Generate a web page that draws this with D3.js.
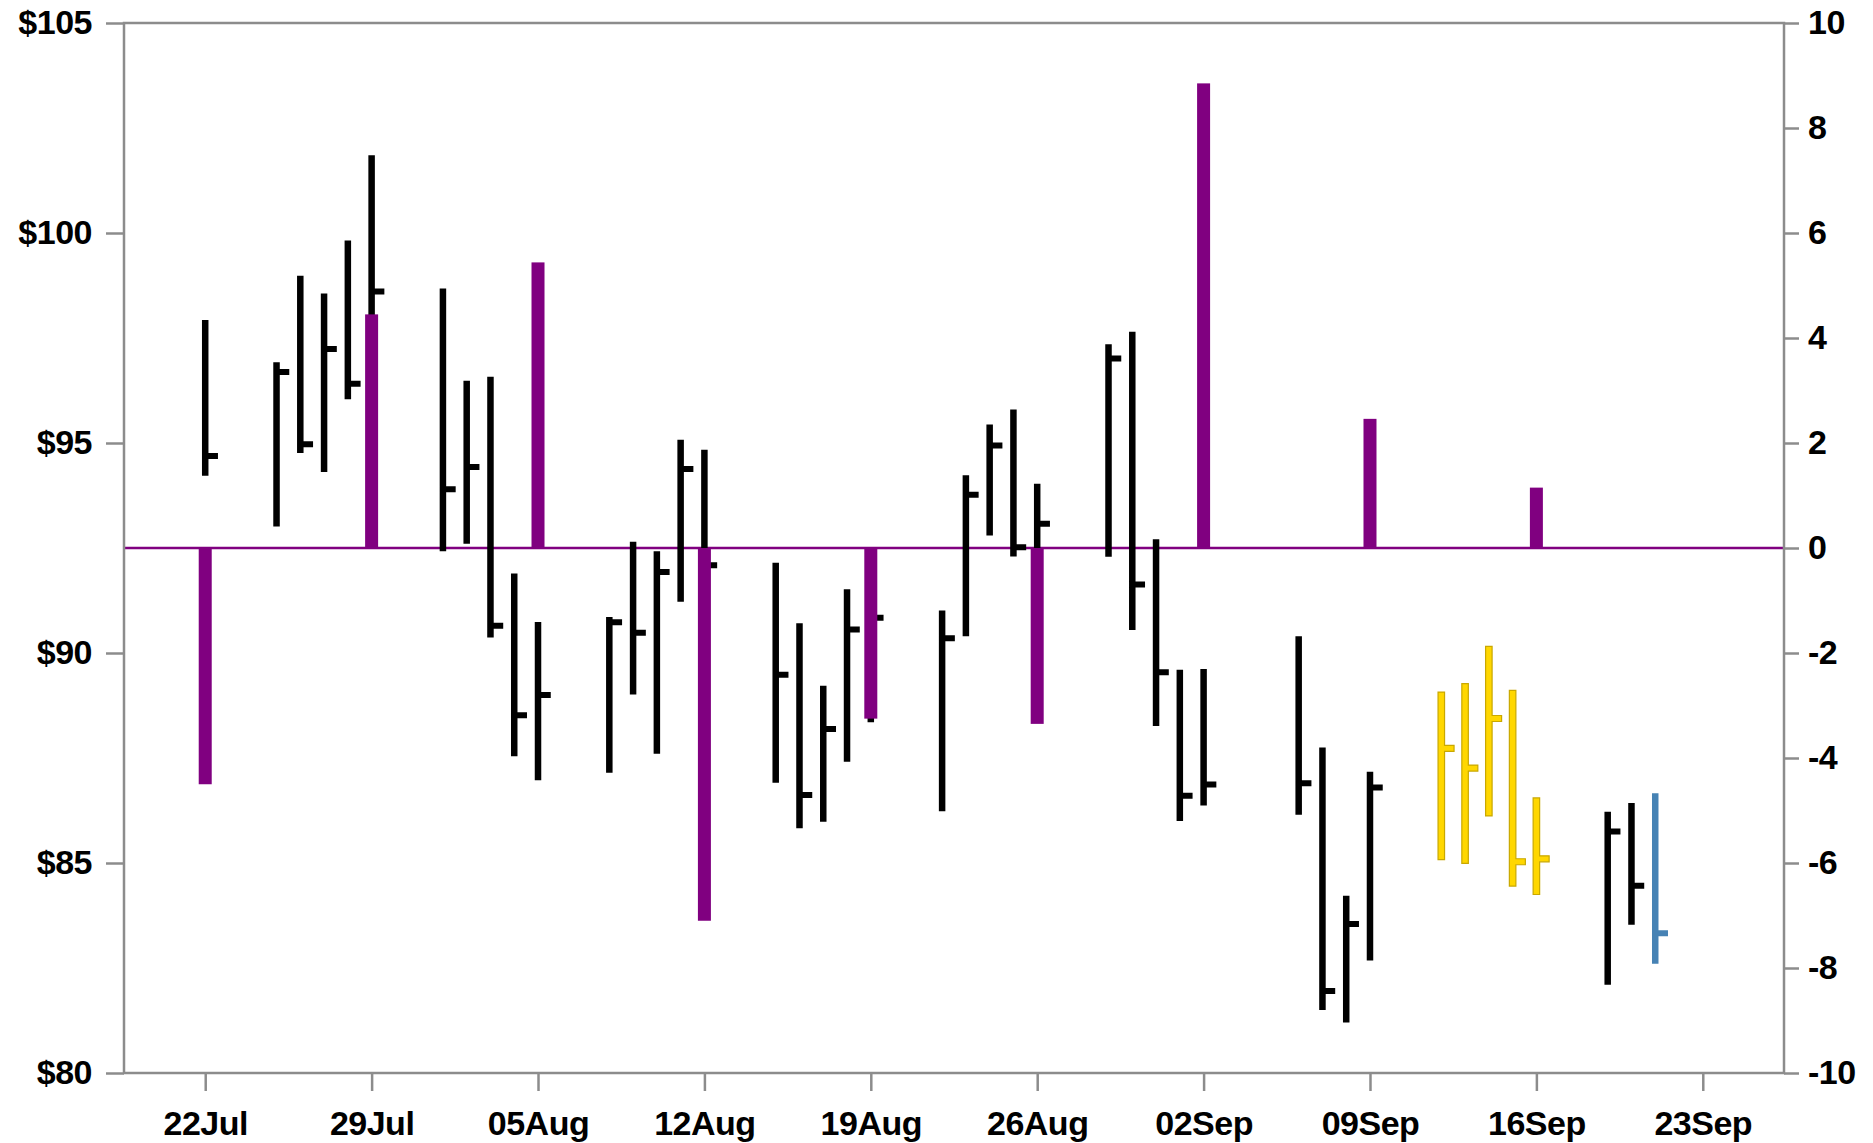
<!DOCTYPE html>
<html>
<head>
<meta charset="utf-8">
<script src="https://cdn.jsdelivr.net/npm/d3@7"></script>
<style>
  body { margin: 0; background: #fff; }
  svg text { font-family: "Liberation Sans", Arial, sans-serif; font-weight: bold; fill: #000; }
</style>
</head>
<body>
<svg id="chart" width="1873" height="1143"></svg>
<script>
// daily bars: high / low / close
const barDates = [
  "2019-07-22",
  "2019-07-25", "2019-07-26", "2019-07-27", "2019-07-28", "2019-07-29",
  "2019-08-01", "2019-08-02", "2019-08-03", "2019-08-04", "2019-08-05",
  "2019-08-08", "2019-08-09", "2019-08-10", "2019-08-11", "2019-08-12",
  "2019-08-15", "2019-08-16", "2019-08-17", "2019-08-18", "2019-08-19",
  "2019-08-22", "2019-08-23", "2019-08-24", "2019-08-25", "2019-08-26",
  "2019-08-29", "2019-08-30", "2019-08-31", "2019-09-01", "2019-09-02",
  "2019-09-06", "2019-09-07", "2019-09-08", "2019-09-09",
  "2019-09-12", "2019-09-13", "2019-09-14", "2019-09-15", "2019-09-16",
  "2019-09-19", "2019-09-20", "2019-09-21"
]
const highs = [
  97.93,
  96.92, 98.98, 98.56, 99.82, 101.85,
  98.68, 96.48, 96.58, 91.89, 90.74,
  90.86, 92.65, 92.42, 95.08, 94.84,
  92.15, 90.71, 89.22, 91.52, 91.80,
  91.01, 94.23, 95.44, 95.80, 94.03,
  97.35, 97.65, 92.71, 89.60, 89.62,
  90.40, 87.75, 84.22, 87.17,
  89.07, 89.27, 90.16, 89.11, 86.55,
  86.22, 86.43, 86.66
]
const lows = [
  94.22,
  93.01, 94.76, 94.31, 96.04, 97.00,
  92.42, 92.60, 90.37, 87.54, 86.97,
  87.15, 89.01, 87.60, 91.22, 91.50,
  86.91, 85.83, 85.98, 87.41, 88.35,
  86.23, 90.40, 92.80, 92.30, 91.00,
  92.29, 90.55, 88.26, 86.00, 86.37,
  86.15, 81.50, 81.20, 82.68,
  85.08, 84.99, 86.12, 84.45, 84.25,
  82.10, 83.53, 82.60
]
const closes = [
  94.69,
  96.69, 94.97, 97.24, 96.41, 98.61,
  93.90, 94.43, 90.65, 88.52, 89.00,
  90.73, 90.48, 91.93, 94.38, 92.09,
  89.48, 86.62, 88.19, 90.56, 90.84,
  90.35, 93.77, 94.94, 92.52, 93.08,
  97.01, 91.63, 89.54, 86.60, 86.87,
  86.90, 81.95, 83.55, 86.80,
  87.73, 87.26, 88.44, 85.03, 85.10,
  85.75, 84.46, 83.33
]
const barKinds = [
  "past",
  "past", "past", "past", "past", "past",
  "past", "past", "past", "past", "past",
  "past", "past", "past", "past", "past",
  "past", "past", "past", "past", "past",
  "past", "past", "past", "past", "past",
  "past", "past", "past", "past", "past",
  "past", "past", "past", "past",
  "week", "week", "week", "week", "week",
  "past", "past", "today"
]

// weekly change bars on the right axis
const histDates = ["2019-07-22", "2019-07-29", "2019-08-05", "2019-08-12", "2019-08-19",
                   "2019-08-26", "2019-09-02", "2019-09-09", "2019-09-16"]
const histValues = [-4.5, 4.45, 5.44, -7.1, -3.25, -3.35, 8.85, 2.46, 1.15]

const priceTicks = [80, 85, 90, 95, 100, 105]
const changeTicks = [-10, -8, -6, -4, -2, 0, 2, 4, 6, 8, 10]
const weekTicks = ["2019-07-22", "2019-07-29", "2019-08-05", "2019-08-12", "2019-08-19",
                   "2019-08-26", "2019-09-02", "2019-09-09", "2019-09-16", "2019-09-23"]

const parse = d3.timeParse("%Y-%m-%d")
const kindColor = { past: "#000000", week: "#FFD700", today: "#4682B4" }
const kindEdge = { past: "none", week: "#c9a800", today: "none" }

const margin = { left: 124, top: 23, right: 89, bottom: 70 }
const width = 1873, height = 1143
const plotW = width - margin.left - margin.right
const plotH = height - margin.top - margin.bottom

const svg = d3.select("#chart")
const g = svg.append("g").attr("transform", `translate(${margin.left},${margin.top})`)

const x = d3.scaleTime()
  .domain([new Date(2019, 6, 18, 14), new Date(2019, 8, 26, 10)])
  .range([0, plotW])
const yPrice = d3.scaleLinear().domain([80, 105]).range([plotH, 0])
const yChange = d3.scaleLinear().domain([-10, 10]).range([plotH, 0])

const axisColor = "#8c8c8c"

// zero line of the change axis
g.append("line")
  .attr("x1", 0).attr("x2", plotW)
  .attr("y1", yChange(0)).attr("y2", yChange(0))
  .attr("stroke", "#800080").attr("stroke-width", 2.5)

// price bars: high-low stem with a close tick to the right
const bars = barDates.map((d, i) => ({
  date: parse(d), high: highs[i], low: lows[i], close: closes[i], kind: barKinds[i]
}))
const stem = 6.5, tickLen = 9.5, tickW = 6

g.append("g").selectAll("path")
  .data(bars)
  .join("path")
  .attr("d", b => {
    const x0 = x(b.date) - stem / 2, x1 = x(b.date) + stem / 2
    const yh = yPrice(b.high), yl = yPrice(b.low), yc = yPrice(b.close)
    return `M${x0},${yh}H${x1}V${yc - tickW / 2}H${x1 + tickLen}V${yc + tickW / 2}H${x1}V${yl}H${x0}Z`
  })
  .attr("fill", b => kindColor[b.kind])
  .attr("stroke", b => kindEdge[b.kind])
  .attr("stroke-width", 1.2)

// change histogram, drawn over the bars
const histW = 13
g.append("g").selectAll("rect")
  .data(histDates.map((d, i) => ({ date: parse(d), v: histValues[i] })))
  .join("rect")
  .attr("x", d => x(d.date) - histW / 2)
  .attr("width", histW)
  .attr("y", d => yChange(Math.max(0, d.v)))
  .attr("height", d => Math.abs(yChange(d.v) - yChange(0)))
  .attr("fill", "#800080")

// frame
g.append("rect")
  .attr("width", plotW).attr("height", plotH)
  .attr("fill", "none").attr("stroke", axisColor).attr("stroke-width", 2.5)

const styleAxis = (sel, size) => {
  sel.select(".domain").remove()
  sel.selectAll(".tick line").attr("stroke", axisColor).attr("stroke-width", 2.5)
  sel.selectAll(".tick text").style("font-size", size + "px").style("letter-spacing", "-0.5px")
}

g.append("g")
  .call(d3.axisLeft(yPrice).tickValues(priceTicks).tickSize(18).tickPadding(14)
    .tickFormat(d => "$" + d))
  .call(s => styleAxis(s, 34))

g.append("g")
  .attr("transform", `translate(${plotW},0)`)
  .call(d3.axisRight(yChange).tickValues(changeTicks).tickSize(15).tickPadding(9)
    .tickFormat(d => String(d)))
  .call(s => styleAxis(s, 34))

g.append("g")
  .attr("transform", `translate(0,${plotH})`)
  .call(d3.axisBottom(x).tickValues(weekTicks.map(parse)).tickSize(18).tickPadding(20)
    .tickFormat(d3.timeFormat("%d%b")))
  .call(s => styleAxis(s, 34))
</script>
</body>
</html>
